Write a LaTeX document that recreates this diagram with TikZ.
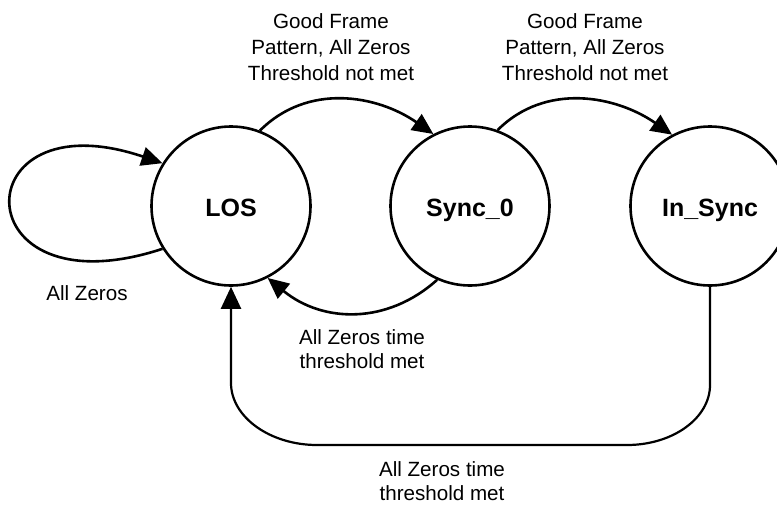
\documentclass[tikz,border=0pt]{standalone}
\usepackage{fontspec}
\setmainfont{Liberation Sans}
\usetikzlibrary{arrows.meta}
\begin{document}
\begin{tikzpicture}[x=1pt,y=-1pt,
  state/.style={circle,draw,line width=2.6pt,minimum size=159pt,inner sep=0pt,
    font=\fontsize{25}{30}\selectfont\bfseries,text height=21pt,text depth=0pt},
  trans/.style={line width=2.6pt,-{Triangle[length=21pt,width=19pt]}},
  loopline/.style={line width=2.2pt,-{Triangle[length=22pt,width=20pt]}},
  lbltop/.style={align=center,inner sep=0pt,font=\fontsize{20.6}{26}\selectfont},
  lblbot/.style={align=center,inner sep=0pt,font=\fontsize{20.6}{24}\selectfont}]
\useasboundingbox (0,0) rectangle (777,504);

% states
\node[state] (los) at (231,206) {LOS};
\node[state] (sync) at (470,206) {Sync\_0};
\node[state] (insync) at (710,206) {In\_Sync};

% self loop on LOS
\draw[trans] (los.212) .. controls +(-201,66) and +(-201,-68) .. (los.148);

% LOS -> Sync_0
\draw[trans] (los.69) .. controls +(48,-48) and +(-56,-39) .. (sync.117);

% Sync_0 -> In_Sync
\draw[trans] (sync.70) .. controls +(48,-48) and +(-56,-39) .. (insync.118);

% Sync_0 -> LOS (lower arc)
\draw[trans] (sync.246) .. controls +(-50,45) and +(55,45) .. (los.297);

% In_Sync -> LOS (big loop)
\draw[loopline] (insync.south) -- (710,385)
  .. controls (710,418) and (673,445) .. (627,445) -- (317,445)
  .. controls (270,445) and (231,417) .. (231,383) -- (los.south);

% labels
\node[lbltop] (l1) at (331,47) {Good Frame\\Pattern, All Zeros\\Threshold not met};
\node[lbltop] (l2) at (585,47) {Good Frame\\Pattern, All Zeros\\Threshold not met};
\node[lblbot] (l3) at (87,293) {All Zeros};
\node[lblbot] (l4) at (362,349) {All Zeros time\\threshold met};
\node[lblbot] (l5) at (442,481) {All Zeros time\\threshold met};
\end{tikzpicture}
\end{document}
